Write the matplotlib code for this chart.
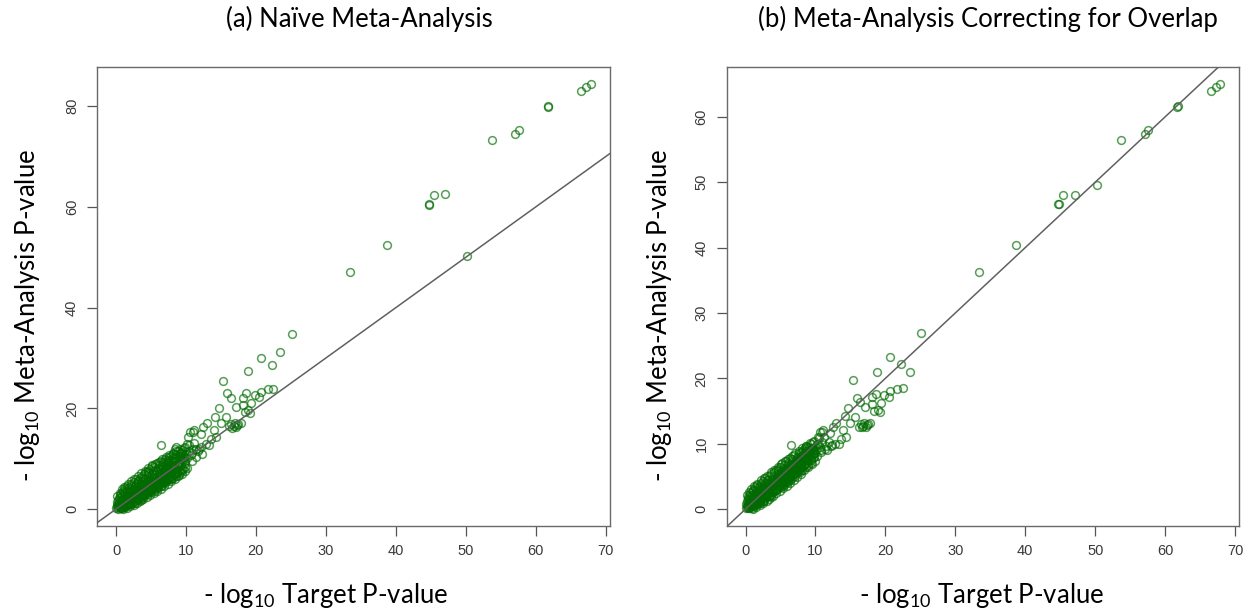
import matplotlib
matplotlib.use('Agg')
import matplotlib.pyplot as plt

plt.rcParams['mathtext.fontset'] = 'custom'
plt.rcParams['mathtext.rm'] = 'Lato'

# -log10 p-values: target study, naive meta-analysis, overlap-corrected meta-analysis
target = [
    67.9, 67.2, 66.5, 61.7, 61.8, 53.7, 57.1, 57.6, 44.7, 44.8, 45.4, 47.1,
    38.7, 33.4, 50.2, 25.1, 20.7, 23.5, 22.3, 18.8, 15.3, 22.5, 15.9, 16.4,
    18.6, 18.1, 19.8, 20.7, 21.7, 20.5, 19.3, 18.1, 17.1, 14.7, 14.2, 15.7,
    15.0, 13.0, 12.5, 16.2, 16.5, 16.8, 17.0, 17.3, 17.5, 17.8, 16.6, 17.2,
    12.1, 10.6, 11.1, 14.0, 14.3, 10.2, 11.7, 8.5, 6.5, 10.3, 11.0, 8.6,
    12.8, 13.6, 11.4, 12.2, 13.3, 10.8, 9.6, 9.3, 19.2, 18.9, 18.4,
    0.0, 0.1, 0.2, 0.3, 0.4, 0.5, 0.6, 0.7, 0.8, 0.9, 1.0, 1.1, 1.2, 1.3,
    1.4, 1.5, 1.6, 1.7, 1.8, 1.9, 2.0, 2.1, 2.2, 2.3, 2.4, 2.5, 2.6, 2.7,
    2.8, 2.9, 3.0, 3.1, 3.2, 3.3, 3.4, 3.5, 3.6, 3.7, 3.8, 3.9, 4.0, 4.1,
    4.2, 4.3, 4.4, 4.5, 4.6, 4.7, 4.8, 4.9, 5.0, 5.1, 5.2, 5.3, 5.4, 5.5,
    5.6, 5.7, 5.8, 5.9, 6.0, 6.1, 6.2, 6.3, 6.4, 6.5, 6.6, 6.7, 6.8, 6.9,
    7.0, 7.1, 7.2, 7.3, 7.4, 7.5, 7.6, 7.7, 7.8, 7.9, 8.0, 8.2, 8.3, 8.5,
    8.6, 8.8, 9.0, 9.1, 9.3, 9.5, 9.6, 9.8, 10.0,
    0.15, 0.35, 0.55, 0.65, 0.85, 0.95, 1.15, 1.25, 1.45, 1.55, 1.65, 1.85,
    1.95, 2.05, 2.15, 2.35, 2.45, 2.55, 2.75, 2.85, 2.95, 3.05, 3.25, 3.35,
    3.45, 3.55, 3.75, 3.85, 3.95, 4.05, 4.25, 4.35, 4.55, 4.65, 4.75, 4.85,
    5.05, 5.15, 5.35, 5.45, 5.65, 5.75, 5.85, 6.05, 6.15, 6.35, 6.45, 6.55,
    6.75, 6.85, 7.05, 7.15, 7.35, 7.45, 7.65, 7.85, 7.95, 8.1, 8.4, 8.7,
    8.9, 9.2, 9.4, 9.7, 9.9,
    0.2, 0.5, 0.8, 1.0, 1.2, 1.5, 1.7, 2.0, 2.2, 2.5, 2.6, 3.0, 3.1, 3.4,
    3.6, 3.9, 4.1, 4.4, 4.6, 4.9, 5.1, 5.4, 5.6, 5.9, 6.1, 6.4, 6.6, 6.9,
    7.1, 7.4, 7.6, 7.9, 8.1, 8.4, 8.6, 8.9, 9.2, 9.5, 9.8, 10.2, 10.5,
    10.8, 11.2, 11.5, 11.9, 12.3,
    0.3, 0.6, 0.9, 1.1, 1.4, 1.6, 1.9, 2.1, 2.3, 2.6, 2.8, 3.0, 3.2, 3.5,
    3.7, 3.9, 4.2, 4.4, 4.6, 4.8, 5.0, 5.3, 5.5, 5.7, 6.0, 6.2, 6.4, 6.7,
    6.9, 7.1, 7.4, 7.6, 7.8, 8.1, 8.3, 8.6, 8.8, 9.0, 9.3, 9.6, 9.8, 10.1,
    10.4, 10.7, 11.0,
    0.25, 0.45, 0.75, 1.05, 1.35, 1.6, 1.9, 2.2, 2.5, 2.8, 3.1, 3.4, 3.7,
    4.0, 4.3, 4.6, 4.9, 5.2, 5.5, 5.8, 6.1, 6.4, 6.7, 7.0, 7.3, 7.6, 7.9,
    8.2, 8.5, 8.8, 9.1, 9.4,
    0.4, 0.7, 1.0, 1.3, 1.6, 1.9, 2.2, 2.5, 2.8, 3.1, 3.4, 3.7, 4.0, 4.3,
    4.6, 4.9, 5.2, 5.5, 5.8, 6.1, 6.4, 6.7, 7.0, 7.3, 7.6, 7.9, 8.2, 8.5,
    8.8, 9.1, 9.4, 9.7,
    0.9, 1.3, 1.7, 2.1, 2.4, 2.7, 3.0, 3.3, 3.6, 3.9, 4.2, 4.5, 4.8, 5.1,
    5.4, 5.7, 6.0, 6.3, 6.6, 6.9, 7.2, 7.5, 7.8, 8.1, 8.4, 8.7, 9.0, 9.3,
    9.6, 9.9,
]
naive = [
    84.4, 83.8, 83.0, 79.9, 80.0, 73.3, 74.5, 75.2, 60.4, 60.5, 62.3, 62.5,
    52.5, 47.0, 50.2, 34.7, 30.0, 31.1, 28.6, 27.4, 25.5, 23.9, 23.1, 22.0,
    23.0, 22.0, 22.6, 23.3, 23.9, 22.3, 21.0, 20.6, 20.3, 20.0, 18.3, 18.3,
    17.0, 17.0, 16.3, 16.4, 16.9, 16.5, 17.1, 16.6, 16.9, 17.0, 16.2, 16.3,
    15.0, 15.3, 15.7, 15.7, 14.4, 13.0, 11.6, 11.9, 12.7, 14.3, 15.3, 12.4,
    13.0, 13.9, 11.9, 12.4, 12.8, 11.2, 10.2, 11.1, 19.0, 19.6, 19.2,
    0.2, 0.8, 1.5, 0.1, 0.6, 2.1, 1.1, 0.3, 1.6, 2.6, 0.7, 1.2, 2.0, 3.1,
    0.9, 1.6, 2.5, 1.1, 3.4, 2.0, 1.4, 2.8, 4.0, 1.8, 2.4, 3.3, 1.6, 4.5,
    2.9, 2.1, 3.8, 5.0, 2.6, 3.4, 4.3, 2.3, 5.4, 3.9, 3.0, 4.8, 2.8, 6.0,
    3.6, 4.4, 5.3, 3.3, 6.4, 4.0, 5.0, 3.7, 5.8, 6.9, 4.5, 4.0, 5.5, 7.0,
    4.8, 6.2, 4.4, 7.5, 5.4, 6.6, 4.9, 7.9, 5.8, 7.1, 5.2, 8.3, 6.3, 7.5,
    5.8, 8.8, 6.7, 7.9, 6.2, 9.2, 7.2, 8.4, 6.6, 9.8, 7.6, 8.8, 7.0, 10.2,
    8.1, 9.3, 7.6, 10.6, 8.7, 11.3, 9.8, 8.3, 10.9,
    0.4, 1.0, 0.2, 1.8, 0.5, 1.4, 2.3, 0.5, 1.9, 3.6, 1.4, 2.6,
    1.0, 3.3, 2.1, 3.0, 1.3, 3.9, 2.4, 3.5, 1.8, 4.4, 3.1, 2.0,
    3.8, 4.9, 2.7, 4.2, 5.6, 3.4, 4.8, 3.0, 5.6, 3.8, 6.9, 4.4,
    4.2, 5.1, 6.3, 4.3, 5.3, 7.8, 5.8, 4.6, 7.2, 5.4, 6.3, 8.6,
    5.6, 6.9, 8.0, 6.2, 7.1, 8.6, 6.0, 7.5, 8.9, 6.7, 9.5, 7.4,
    8.6, 9.9, 7.9, 10.4, 9.2,
    2.6, 3.2, 3.9, 0.0, 4.4, 0.3, 5.0, 0.6, 5.6, 0.9, 6.0, 1.3, 6.6, 1.6,
    7.1, 2.0, 7.6, 2.4, 8.1, 2.8, 8.5, 3.2, 9.0, 3.6, 9.4, 4.0, 9.9, 4.5,
    10.3, 5.0, 10.8, 5.5, 11.2, 6.0, 11.6, 6.5, 12.0, 7.0, 12.3, 8.2, 12.8,
    9.6, 13.2, 10.4, 12.0, 11.0,
    1.8, 2.7, 0.9, 3.3, 2.3, 3.9, 1.3, 4.5, 3.5, 2.2, 5.0, 2.9, 5.6, 4.0,
    2.2, 6.2, 4.9, 3.7, 7.1, 5.5, 3.4, 7.6, 6.0, 4.0, 8.2, 6.8, 4.5, 8.9,
    7.0, 5.3, 9.5, 7.9, 5.9, 10.1, 8.3, 6.6, 10.6, 9.0, 7.3, 11.0, 9.6, 10.1,
    11.6, 10.8, 11.9,
    0.7, 1.3, 1.0, 1.9, 1.5, 2.2, 2.4, 2.7, 2.6, 3.4, 3.3, 4.0, 4.5,
    4.2, 5.1, 4.9, 5.7, 5.5, 6.4, 6.1, 7.0, 6.8, 7.6, 7.3, 8.3, 8.0, 8.7,
    8.4, 9.3, 9.0, 9.8, 10.2,
    2.2, 2.9, 3.6, 4.1, 4.6, 4.1, 5.0, 5.4, 5.9, 5.5, 6.2, 6.6, 6.9, 7.4,
    7.6, 8.0, 8.7, 8.3, 9.1, 8.7, 9.6, 9.3, 10.0, 9.7, 10.4, 10.6, 11.0, 10.8,
    11.6, 11.2, 11.8, 12.1,
    0.2, 0.6, 0.8, 1.0, 1.5, 1.2, 2.0, 2.4, 1.9, 2.6, 2.9, 3.0, 3.6, 3.9,
    3.6, 4.4, 4.2, 5.0, 4.7, 5.4, 5.6, 5.9, 6.4, 6.1, 6.9, 7.2, 6.8, 7.7,
    8.0, 7.6,
]
corrected = [
    65.0, 64.6, 63.9, 61.5, 61.6, 56.4, 57.3, 58.0, 46.6, 46.7, 48.0, 48.1,
    40.4, 36.3, 49.6, 26.9, 23.2, 21.0, 22.2, 21.0, 19.7, 18.5, 17.0, 16.4,
    17.6, 17.1, 17.4, 18.0, 18.3, 17.2, 16.3, 16.0, 15.6, 15.4, 14.2, 14.1,
    13.2, 13.1, 12.6, 12.6, 13.0, 12.7, 13.1, 12.8, 13.0, 13.1, 12.5, 12.6,
    11.6, 11.8, 12.1, 12.1, 11.1, 10.0, 9.0, 9.3, 9.8, 11.0, 11.8, 9.6,
    10.0, 10.7, 9.2, 9.6, 9.9, 8.7, 8.4, 9.0, 14.8, 15.1, 15.0,
    0.2, 0.7, 1.2, 0.1, 0.5, 1.7, 0.9, 0.3, 1.4, 2.1, 0.6, 1.1, 1.7, 2.5,
    0.8, 1.5, 2.1, 1.0, 2.8, 1.8, 1.3, 2.4, 3.2, 1.7, 2.2, 2.8, 1.5, 3.6,
    2.6, 2.0, 3.2, 4.0, 2.4, 3.0, 3.6, 2.2, 4.4, 3.4, 2.8, 4.0, 2.7, 4.8,
    3.3, 3.9, 4.5, 3.1, 5.2, 3.7, 4.4, 3.5, 4.9, 5.6, 4.1, 3.8, 4.8, 5.8,
    4.4, 5.3, 4.2, 6.1, 4.9, 5.7, 4.7, 6.5, 5.3, 6.1, 5.0, 6.8, 5.8, 6.5,
    5.5, 7.2, 6.2, 6.9, 5.9, 7.6, 6.6, 7.3, 6.3, 8.0, 7.0, 7.7, 6.7, 8.4,
    7.5, 8.2, 7.3, 8.8, 8.1, 9.4, 8.8, 8.0, 9.5,
    0.35, 0.8, 0.2, 1.5, 0.5, 1.2, 1.9, 0.5, 1.6, 2.9, 1.3, 2.2,
    1.0, 2.7, 1.9, 2.5, 1.3, 3.2, 2.2, 3.0, 1.8, 3.6, 2.8, 2.0,
    3.3, 4.0, 2.6, 3.6, 4.5, 3.2, 4.1, 2.9, 4.7, 3.5, 5.5, 4.0,
    4.0, 4.5, 5.3, 4.1, 4.7, 6.3, 5.1, 4.4, 6.0, 5.0, 5.6, 6.9,
    5.3, 6.1, 6.9, 5.9, 6.4, 7.3, 5.8, 6.8, 7.6, 6.4, 8.1, 7.1,
    7.8, 8.6, 7.6, 9.1, 8.5,
    2.2, 2.6, 3.1, 0.0, 3.5, 0.3, 3.9, 0.6, 4.4, 1.0, 4.7, 1.3, 5.1, 1.6,
    5.6, 2.0, 6.0, 2.4, 6.5, 2.8, 6.9, 3.2, 7.3, 3.6, 7.7, 4.0, 8.1, 4.5,
    8.5, 4.9, 8.9, 5.4, 9.3, 5.9, 9.7, 6.4, 10.1, 6.9, 10.4, 8.1, 10.8,
    9.0, 11.0, 9.6, 10.2, 9.8,
    1.5, 2.2, 0.9, 2.7, 2.0, 3.2, 1.2, 3.6, 2.9, 2.1, 4.0, 2.7, 4.5, 3.5,
    2.2, 5.0, 4.2, 3.5, 5.8, 4.7, 3.3, 6.2, 5.2, 3.9, 6.7, 5.9, 4.4, 7.3,
    6.2, 5.1, 7.8, 7.0, 5.7, 8.3, 7.4, 6.4, 8.9, 8.0, 7.1, 9.3, 8.6, 9.1,
    9.9, 9.5, 10.3,
    0.6, 1.1, 0.9, 1.6, 1.4, 1.9, 2.1, 2.4, 2.4, 3.0, 3.1, 3.5, 3.9,
    3.9, 4.5, 4.5, 5.0, 5.1, 5.6, 5.6, 6.2, 6.3, 6.8, 6.8, 7.4, 7.4, 7.9,
    7.8, 8.4, 8.4, 8.9, 9.2,
    1.8, 2.4, 2.9, 3.3, 3.7, 3.3, 4.0, 4.3, 4.7, 4.4, 5.0, 5.3, 5.6, 6.0,
    6.2, 6.5, 7.0, 6.8, 7.4, 7.1, 7.8, 7.6, 8.2, 8.0, 8.5, 8.7, 9.1, 8.9,
    9.5, 9.3, 9.9, 10.2,
    0.2, 0.6, 0.8, 1.0, 1.5, 1.2, 2.0, 2.4, 1.9, 2.6, 2.9, 3.0, 3.6, 3.9,
    3.6, 4.4, 4.2, 5.0, 4.7, 5.4, 5.5, 5.8, 6.3, 6.0, 6.8, 7.0, 6.7, 7.5,
    7.8, 7.4,
]

titles = ['(a) Naïve Meta-Analysis', '(b) Meta-Analysis Correcting for Overlap']
xticks = [0, 10, 20, 30, 40, 50, 60, 70]
yticks_a = [0, 20, 40, 60, 80]
yticks_b = [0, 10, 20, 30, 40, 50, 60]

fig = plt.figure(figsize=(12.57, 6.16), dpi=100)
ax_a = fig.add_axes([0.0772, 0.146, 0.408, 0.745])
ax_b = fig.add_axes([0.578, 0.146, 0.408, 0.745])

for ax, yvals, yt in [(ax_a, naive, yticks_a), (ax_b, corrected, yticks_b)]:
    ax.plot(target, yvals, linestyle='none', marker='o', markersize=5.6,
            markerfacecolor='none', markeredgecolor=(0, 0.42, 0, 0.66),
            markeredgewidth=1.1)
    ax.axline((0, 0), slope=1, color='#606060', linewidth=1.1, zorder=3)
    ax.margins(x=0.04, y=0.04)
    ax.set_xticks(xticks)
    ax.set_yticks(yt)
    ax.set_yticklabels([str(v) for v in yt], rotation=90, va='center')
    ax.tick_params(direction='out', length=7, width=0.9, color='#555555',
                   labelsize=10.5, labelcolor='#3a3a3a', pad=6)
    for lab in ax.get_xticklabels() + ax.get_yticklabels():
        lab.set_fontfamily('Liberation Sans')
    for sp in ax.spines.values():
        sp.set_color('#6a6a6a')
        sp.set_linewidth(1.0)

fig.text(359 / 1257, 1 - 19 / 616, titles[0], ha='center', va='center',
         fontsize=18.5, family='Lato')
fig.text(988 / 1257, 1 - 19 / 616, titles[1], ha='center', va='center',
         fontsize=18.5, family='Lato')

xlab = r'- log$_{\mathregular{10}}$ Target P-value'
ylab = r'- log$_{\mathregular{10}}$ Meta-Analysis P-value'
fig.text(326 / 1257, 1 - 596 / 616, xlab, ha='center', va='center',
         fontsize=18.5, family='Lato')
fig.text(982 / 1257, 1 - 596 / 616, xlab, ha='center', va='center',
         fontsize=18.5, family='Lato')
fig.text(28 / 1257, 1 - 315 / 616, ylab, ha='center', va='center',
         rotation=90, fontsize=18.5, family='Lato')
fig.text(660 / 1257, 1 - 315 / 616, ylab, ha='center', va='center',
         rotation=90, fontsize=18.5, family='Lato')

fig.savefig('out.png', dpi=100, facecolor='white')
